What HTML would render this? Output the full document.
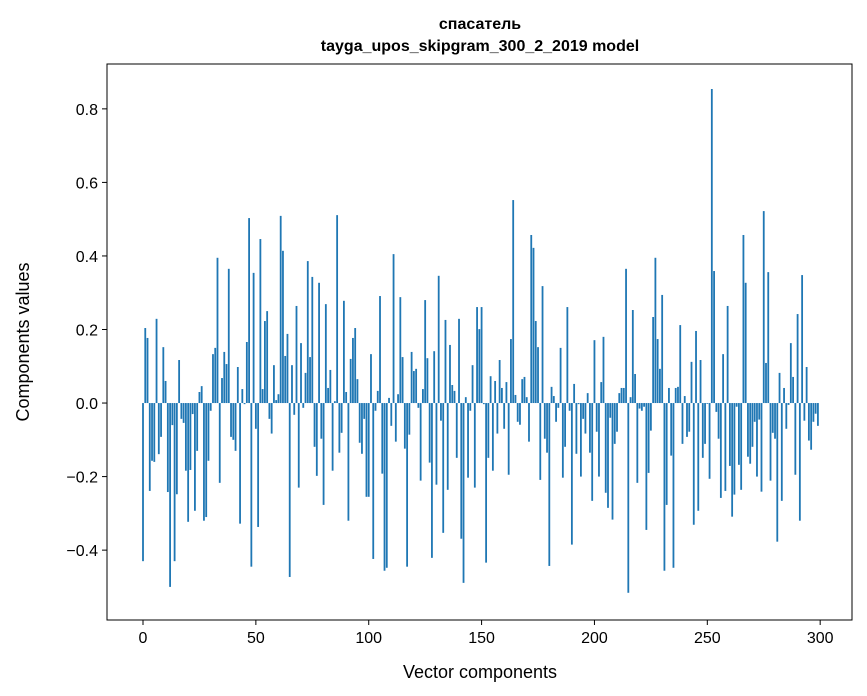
<!DOCTYPE html>
<html><head><meta charset="utf-8"><style>
html,body{margin:0;padding:0;background:#fff}
svg{display:block;font-family:"Liberation Sans","DejaVu Sans",sans-serif}
</style></head><body>
<svg id="chart" width="867" height="696" viewBox="0 0 867 696">
<rect width="867" height="696" fill="#fff"/>
<text x="480" y="29" text-anchor="middle" font-size="16" font-weight="bold">спасатель</text>
<text x="480" y="51" text-anchor="middle" font-size="16" font-weight="bold">tayga_upos_skipgram_300_2_2019 model</text>
<g id="bars"></g>
<g id="axes"></g>
<text x="480" y="678" text-anchor="middle" font-size="18">Vector components</text>
<text transform="translate(29,342) rotate(-90)" text-anchor="middle" font-size="18">Components values</text>
</svg>
<script>
const values = [-0.43,0.204,0.177,-0.239,-0.157,-0.16,0.229,-0.139,-0.092,0.152,
0.06,-0.242,-0.5,-0.06,-0.43,-0.248,0.117,-0.043,-0.054,-0.184,
-0.323,-0.182,-0.03,-0.293,-0.13,0.03,0.046,-0.32,-0.31,-0.157,
-0.021,0.133,0.15,0.395,-0.217,0.068,0.139,0.106,0.365,-0.092,
-0.1,-0.13,0.098,-0.328,0.038,-0.003,0.166,0.503,-0.445,0.354,
-0.07,-0.337,0.446,0.038,0.223,0.25,-0.043,-0.083,0.103,0.008,
0.024,0.509,0.414,0.128,0.188,-0.473,0.103,-0.032,0.264,-0.23,
0.163,-0.013,0.082,0.386,0.125,0.343,-0.119,-0.198,0.327,-0.097,
-0.277,0.269,0.041,0.09,-0.184,0.005,0.511,-0.135,-0.081,0.278,
0.03,-0.32,0.12,0.177,0.204,0.065,-0.108,-0.138,-0.043,-0.255,
-0.255,0.133,-0.424,-0.021,0.033,0.291,-0.192,-0.456,-0.448,0.014,
-0.062,0.405,-0.105,0.024,0.288,0.125,-0.124,-0.445,-0.086,0.139,
0.087,0.093,-0.013,-0.211,0.038,0.28,0.122,-0.162,-0.421,0.141,
-0.222,0.346,-0.048,-0.353,0.226,-0.236,0.158,0.049,0.033,-0.149,
0.229,-0.369,-0.489,0.016,-0.203,-0.021,0.103,-0.23,0.261,0.201,
0.261,-0.003,-0.434,-0.149,0.073,-0.184,0.06,-0.083,0.117,0.041,
-0.07,0.057,-0.195,0.174,0.552,0.022,-0.051,-0.059,0.065,0.071,
0.016,-0.105,0.457,0.422,0.223,0.152,-0.209,0.318,-0.097,-0.135,
-0.443,0.044,0.019,-0.051,-0.013,0.15,-0.203,-0.119,0.261,-0.021,
-0.385,0.052,-0.138,-0.003,-0.2,-0.043,-0.083,0.027,-0.135,-0.266,
0.171,-0.078,-0.2,0.057,0.18,-0.244,-0.285,-0.04,-0.317,-0.111,
-0.078,0.027,0.041,0.041,0.365,-0.516,0.016,0.253,0.079,-0.217,
-0.015,-0.021,-0.01,-0.345,-0.19,-0.075,0.234,0.395,0.174,0.093,
0.294,-0.456,-0.277,0.041,-0.143,-0.448,0.041,0.044,0.212,-0.111,
0.019,-0.092,-0.078,0.112,-0.331,0.196,-0.293,0.117,-0.149,-0.111,
-0.002,-0.206,0.854,0.359,-0.024,-0.097,-0.258,0.133,-0.239,0.264,
-0.171,-0.309,-0.249,-0.01,-0.168,-0.236,0.457,0.327,-0.146,-0.165,
-0.119,-0.051,-0.2,-0.045,-0.241,0.522,0.109,0.356,-0.211,-0.081,
-0.097,-0.377,0.082,-0.266,0.041,-0.07,-0.005,0.163,0.071,-0.195,
0.242,-0.32,0.348,-0.048,0.098,-0.102,-0.127,-0.051,-0.029,-0.062];
const xTicks = [0,50,100,150,200,250,300];
const yTicks = [-0.4,-0.2,0.0,0.2,0.4,0.6,0.8];
const yTickLabels = ["\u22120.4","\u22120.2","0.0","0.2","0.4","0.6","0.8"];

const NS="http://www.w3.org/2000/svg";
const L=107,R=852,T=64,B=620;
const xMin=-15.95,xMax=314.1,yMin=-0.59,yMax=0.922;
const xs=v=>L+(v-xMin)/(xMax-xMin)*(R-L);
const ys=v=>B-(v-yMin)/(yMax-yMin)*(B-T);
function mk(tag,attrs,parent){const e=document.createElementNS(NS,tag);for(const k in attrs)e.setAttribute(k,attrs[k]);parent.appendChild(e);return e;}
const bars=document.getElementById('bars'), axes=document.getElementById('axes');
values.forEach((v,i)=>{
  const x0=xs(i-0.4),x1=xs(i+0.4),y0=ys(0),y1=ys(v);
  const r=mk('rect',{x:x0,y:Math.min(y0,y1),width:x1-x0,height:Math.max(Math.abs(y1-y0),0.3),fill:'#1f77b4'},bars);
  
  
});
const frame=mk('rect',{x:L,y:T,width:R-L,height:B-T,fill:'none',stroke:'#000','stroke-width':1},axes);


xTicks.forEach(t=>{
  const x=xs(t);
  mk('line',{x1:x,x2:x,y1:B,y2:B+5,stroke:'#000'},axes);
  const tx=mk('text',{x:x,y:B+23,'text-anchor':'middle','font-size':16},axes);
  tx.textContent=t;
  
  
});
yTicks.forEach((t,i)=>{
  const y=ys(t);
  mk('line',{x1:L-5,x2:L,y1:y,y2:y,stroke:'#000'},axes);
  const tx=mk('text',{x:L-9,y:y+6,'text-anchor':'end','font-size':16},axes);
  tx.textContent=yTickLabels[i];
  
  
});
</script>
</body></html>
